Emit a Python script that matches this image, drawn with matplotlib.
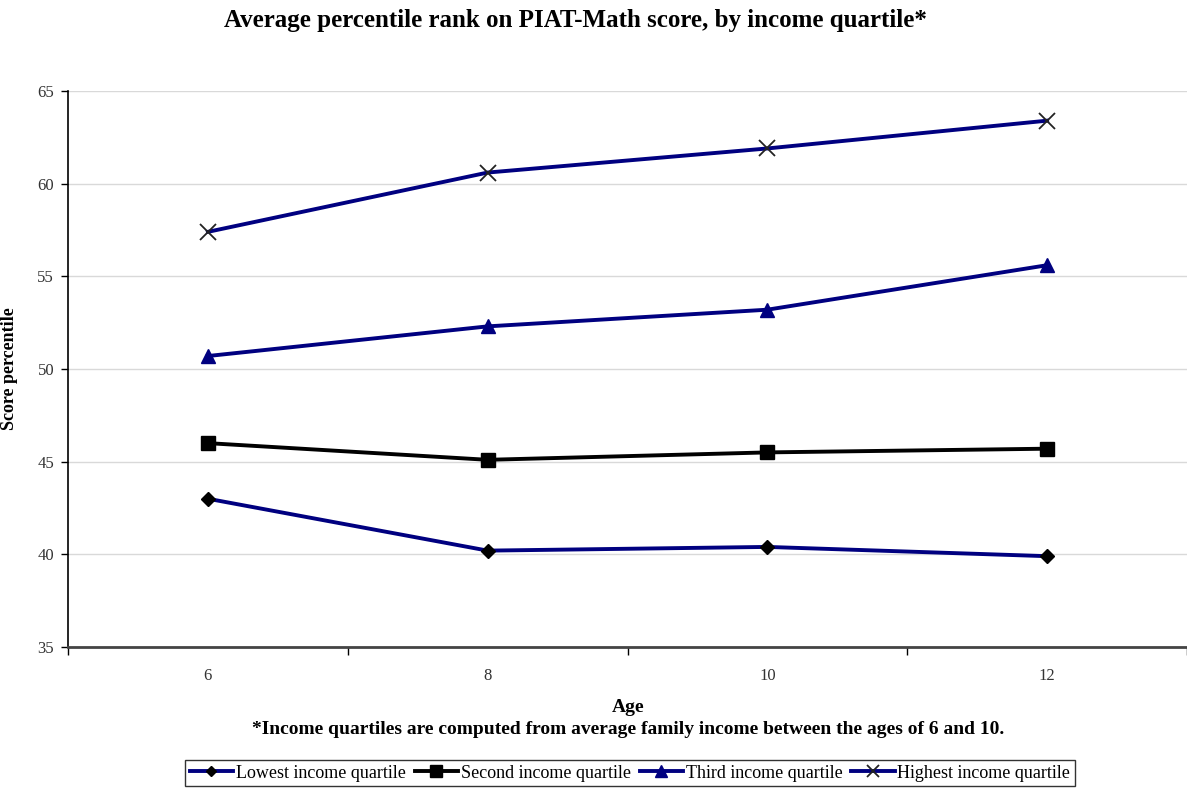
import matplotlib
matplotlib.use("Agg")
import matplotlib.pyplot as plt
from matplotlib.ticker import FixedLocator, NullFormatter

plt.rcParams['font.family'] = ['Liberation Serif', 'DejaVu Serif']

ages = ["6", "8", "10", "12"]
lowest = [43.0, 40.2, 40.4, 39.9]
second = [46.0, 45.1, 45.5, 45.7]
third = [50.7, 52.3, 53.2, 55.6]
highest = [57.4, 60.6, 61.9, 63.4]
series_labels = ["Lowest income quartile", "Second income quartile",
                 "Third income quartile", "Highest income quartile"]
y_ticks = [35, 40, 45, 50, 55, 60, 65]

W, H = 1187, 788
fig = plt.figure(figsize=(W / 100, H / 100), dpi=100)
ax = fig.add_axes([68 / W, 1 - 647 / H, (1187 - 68) / W, (647 - 91) / H])

x = list(range(len(ages)))
navy = "#000080"
ax.plot(x, lowest, color=navy, lw=2.8, marker="D", ms=7, mfc="black", mec="black",
        label=series_labels[0], zorder=3)
ax.plot(x, second, color="black", lw=2.8, marker="s", ms=10, mfc="black", mec="black",
        label=series_labels[1], zorder=3)
ax.plot(x, third, color=navy, lw=2.8, marker="^", ms=10, mfc=navy, mec=navy,
        label=series_labels[2], zorder=3)
ax.plot(x, highest, color=navy, lw=2.8, marker="x", ms=11, mew=1.3, mec="#222222",
        label=series_labels[3], zorder=3)

ax.set_xlim(-0.5, len(ages) - 0.5)
ax.set_ylim(35, 65)
ax.set_yticks(y_ticks)
ax.yaxis.grid(True, color="#d9d9d9", lw=1)
ax.set_axisbelow(True)

ax.xaxis.set_major_locator(FixedLocator([i - 0.5 for i in range(len(ages) + 1)]))
ax.xaxis.set_major_formatter(NullFormatter())
ax.xaxis.set_minor_locator(FixedLocator(x))
ax.set_xticklabels(ages, minor=True)
ax.tick_params(axis="x", which="major", length=6, width=1, direction="out", color="black")
ax.tick_params(axis="x", which="minor", length=0, pad=15, labelsize=12, labelcolor="#333333")
ax.tick_params(axis="y", length=5, width=1, direction="out", labelsize=12,
               labelcolor="#333333", pad=5)

for s in ["top", "right"]:
    ax.spines[s].set_visible(False)
ax.spines["left"].set_linewidth(1.2)
ax.spines["bottom"].set_linewidth(2.0)
ax.spines["bottom"].set_color("#444444")

ax.set_ylabel("Score percentile", fontsize=13, fontweight="bold")
ax.yaxis.set_label_coords((18 - 68) / (1187 - 68), 0.5)

fig.text(575 / W, 1 - 20 / H, "Average percentile rank on PIAT-Math score, by income quartile*",
         ha="center", va="center", fontsize=18, fontweight="bold")
fig.text(628 / W, 1 - 707 / H, "Age", ha="center", va="center", fontsize=14, fontweight="bold")
fig.text(628 / W, 1 - 730 / H,
         "*Income quartiles are computed from average family income between the ages of 6 and 10.",
         ha="center", va="center", fontsize=14, fontweight="bold")

leg = fig.legend(loc="center", bbox_to_anchor=(630 / W, 1 - 773 / H), ncol=4, frameon=True,
                 fancybox=False, edgecolor="black", fontsize=13, handlelength=2.4,
                 handletextpad=0.15, columnspacing=0.5, borderpad=0.25, markerscale=0.8)
leg.get_frame().set_linewidth(1.0)

fig.savefig("out.png", dpi=100)
